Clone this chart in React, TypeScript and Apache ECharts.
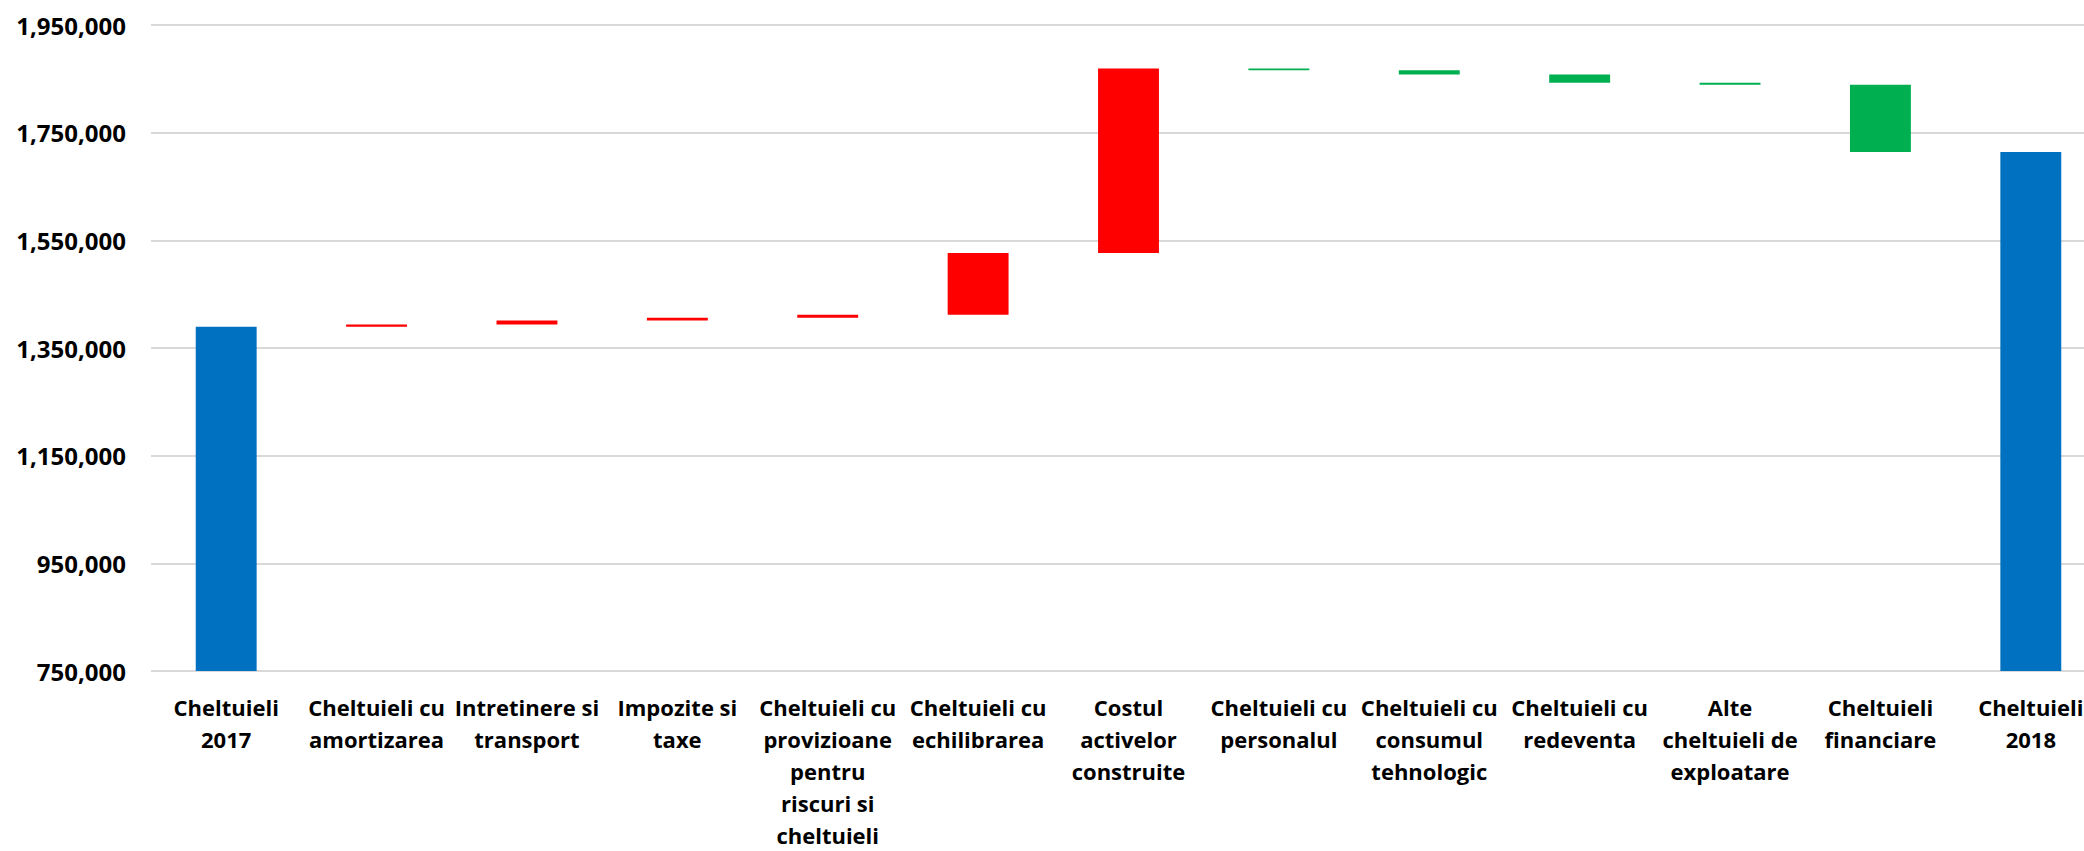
import React, { useEffect, useRef } from "react";
import * as echarts from "echarts";

const categories: string[] = [
  "Cheltuieli\n2017",
  "Cheltuieli cu\namortizarea",
  "Intretinere si\ntransport",
  "Impozite si\ntaxe",
  "Cheltuieli cu\nprovizioane\npentru\nriscuri si\ncheltuieli",
  "Cheltuieli cu\nechilibrarea",
  "Costul\nactivelor\nconstruite",
  "Cheltuieli cu\npersonalul",
  "Cheltuieli cu\nconsumul\ntehnologic",
  "Cheltuieli cu\nredeventa",
  "Alte\ncheltuieli de\nexploatare",
  "Cheltuieli\nfinanciare",
  "Cheltuieli\n2018",
];
const total2017 = 1389400;
const changes: number[] = [4300, 7400, 5000, 5600, 114800, 342600, -3200, -7900, -15400, -3700, -124800];
const total2018 = 1714100;
const yMin = 750000;
const yMax = 1950000;
const yInterval = 200000;

const BLUE = "#0070C0";
const RED = "#FF0000";
const GREEN = "#00B050";

export default function App() {
  const ref = useRef<HTMLDivElement>(null);
  useEffect(() => {
    document.body.style.margin = "0";
    document.body.style.overflow = "hidden";
    if (!ref.current) return;
    const chart = echarts.init(ref.current, undefined, { renderer: "svg" });

    const baseData: number[] = [0];
    const valueData: any[] = [{ value: total2017, itemStyle: { color: BLUE } }];
    let running = total2017;
    changes.forEach((d) => {
      const next = running + d;
      baseData.push(Math.min(running, next));
      valueData.push({ value: Math.abs(d), itemStyle: { color: d >= 0 ? RED : GREEN } });
      running = next;
    });
    baseData.push(0);
    valueData.push({ value: total2018, itemStyle: { color: BLUE } });

    const font = "'Open Sans', 'Noto Sans', sans-serif";
    chart.setOption({
      animation: false,
      backgroundColor: "#ffffff",
      grid: { left: 151, right: 0, top: 25, bottom: 178, containLabel: false },
      xAxis: {
        type: "category",
        data: categories,
        axisLine: { show: false },
        axisTick: { show: false },
        axisLabel: {
          interval: 0,
          margin: 20,
          color: "#000000",
          fontFamily: font,
          fontWeight: "bold",
          fontSize: 22,
          lineHeight: 32,
          align: "center",
        },
      },
      yAxis: {
        type: "value",
        min: yMin,
        max: yMax,
        interval: yInterval,
        axisLine: { show: false },
        axisTick: { show: false },
        splitLine: { show: true, lineStyle: { color: "#d9d9d9", width: 2 } },
        axisLabel: {
          margin: 25,
          color: "#000000",
          fontFamily: font,
          fontWeight: "bold",
          fontSize: 24,
          formatter: (v: number) => v.toLocaleString("en-US"),
        },
      },
      series: [
        {
          type: "bar",
          stack: "wf",
          data: baseData,
          itemStyle: { color: "transparent" },
          barWidth: "40.5%",
          silent: true,
        },
        {
          type: "bar",
          stack: "wf",
          data: valueData,
          barWidth: "40.5%",
        },
      ],
    });
    return () => chart.dispose();
  }, []);
  return (
    <div style={{ width: 2084, height: 851, overflow: "hidden", position: "relative" }}>
      <div ref={ref} style={{ width: 2106, height: 851 }} />
    </div>
  );
}
